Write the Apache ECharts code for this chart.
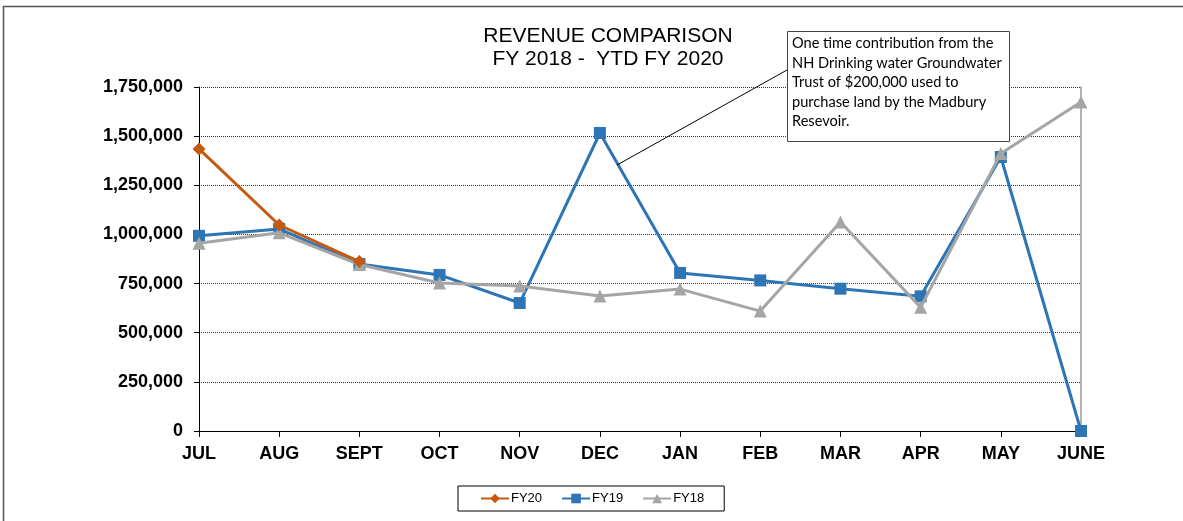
<!DOCTYPE html>
<html>
<head>
<meta charset="utf-8">
<script src="https://cdn.jsdelivr.net/npm/echarts@6/dist/echarts.min.js"></script>
<style>
  html, body { margin: 0; padding: 0; background: #fff; }
  #rev_chart { width: 1183px; height: 521px; }
</style>
</head>
<body>
<div id="rev_chart"></div>
<script>
  const months = ['JUL', 'AUG', 'SEPT', 'OCT', 'NOV', 'DEC', 'JAN', 'FEB', 'MAR', 'APR', 'MAY', 'JUNE'];
  const fy20 = [1435000, 1048000, 862000];
  const fy19 = [993000, 1028000, 850000, 794000, 651000, 1516000, 804000, 766000, 724000, 685000, 1394000, 0];
  const fy18 = [955000, 1008000, 847000, 753000, 738000, 687000, 722000, 610000, 1063000, 629000, 1412000, 1674000];
  const noteLines = [
    'One time contribution from the',
    'NH Drinking water Groundwater',
    'Trust of $200,000 used to',
    'purchase land by the Madbury',
    'Resevoir.'
  ];

  var revChart = echarts.init(document.getElementById('rev_chart'));

  const option = {
    backgroundColor: '#fff',
    animation: false,
    title: {
      text: 'REVENUE COMPARISON\nFY 2018 -  YTD FY 2020',
      left: 603,
      top: 20,
      textAlign: 'center',
      textStyle: {
        fontFamily: 'Liberation Sans',
        fontSize: 21,
        fontWeight: 'normal',
        color: '#000',
        lineHeight: 23
      }
    },
    legend: {
      left: 458,
      top: 486,
      padding: [6, 20, 6, 22],
      itemGap: 19,
      itemWidth: 28,
      itemHeight: 12,
      borderColor: '#000',
      borderWidth: 1,
      textStyle: {
        fontFamily: 'Liberation Sans',
        fontSize: 13,
        color: '#000',
        padding: [0, 0, 0, -3]
      },
      data: ['FY20', 'FY19', 'FY18']
    },
    grid: {
      left: 199,
      right: 102,
      top: 87,
      bottom: 90,
      containLabel: false
    },
    xAxis: {
      type: 'category',
      boundaryGap: false,
      data: months,
      axisLine: { lineStyle: { color: '#000', width: 1 } },
      axisTick: { show: true, length: 6, lineStyle: { color: '#000' } },
      axisLabel: {
        margin: 14,
        fontFamily: 'Liberation Sans',
        fontSize: 18,
        fontWeight: 'bold',
        color: '#000'
      }
    },
    yAxis: [
      {
        type: 'value',
        min: 0,
        max: 1750000,
        interval: 250000,
        axisLine: { show: true, lineStyle: { color: '#000', width: 1 } },
        axisTick: { show: true, length: 5, lineStyle: { color: '#000' } },
        axisLabel: {
          margin: 16,
          fontFamily: 'Liberation Sans',
          fontSize: 18,
          fontWeight: 'bold',
          color: '#000',
          formatter: function (v) { return v.toLocaleString('en-US'); }
        },
        splitLine: { show: true, lineStyle: { color: '#333', width: 1, type: [1, 1] } }
      },
      {
        type: 'value',
        position: 'right',
        min: 0,
        max: 1750000,
        interval: 250000,
        axisLine: { show: true, lineStyle: { color: '#999', width: 1.5 } },
        axisTick: { show: false },
        axisLabel: { show: false },
        splitLine: { show: false }
      }
    ],
    series: [
      {
        name: 'FY20',
        type: 'line',
        z: 4,
        data: fy20,
        symbol: 'diamond',
        symbolSize: 13,
        lineStyle: { color: '#C55A11', width: 3 },
        itemStyle: { color: '#C55A11' }
      },
      {
        name: 'FY19',
        type: 'line',
        z: 2,
        data: fy19,
        symbol: 'rect',
        symbolSize: 12,
        lineStyle: { color: '#2E75B6', width: 3 },
        itemStyle: { color: '#2E75B6' }
      },
      {
        name: 'FY18',
        type: 'line',
        z: 3,
        data: fy18,
        symbol: 'triangle',
        symbolSize: 13,
        lineStyle: { color: '#A5A5A5', width: 3 },
        itemStyle: { color: '#A5A5A5' }
      }
    ],
    graphic: [
      {
        // outer frame (only top and left edges fall inside the picture)
        type: 'rect',
        shape: { x: 3.5, y: 6.5, width: 1400, height: 700 },
        style: { fill: 'none', stroke: '#555', lineWidth: 1.5 },
        silent: true
      },
      {
        type: 'line',
        shape: { x1: 617, y1: 165, x2: 787, y2: 70 },
        style: { stroke: '#000', lineWidth: 1 },
        z: 10
      },
      {
        type: 'rect',
        shape: { x: 787.5, y: 31.5, width: 222, height: 110 },
        style: { fill: '#fff', stroke: '#444', lineWidth: 1 },
        z: 10
      },
      {
        type: 'text',
        left: 792,
        top: 34,
        z: 11,
        style: {
          text: noteLines.join('\n'),
          fontFamily: 'Lato',
          fontSize: 14.6,
          lineHeight: 19.5,
          fill: '#000'
        }
      }
    ]
  };

  revChart.setOption(option);
  window.addEventListener('resize', function () {
    revChart.resize();
  });
</script>
</body>
</html>
